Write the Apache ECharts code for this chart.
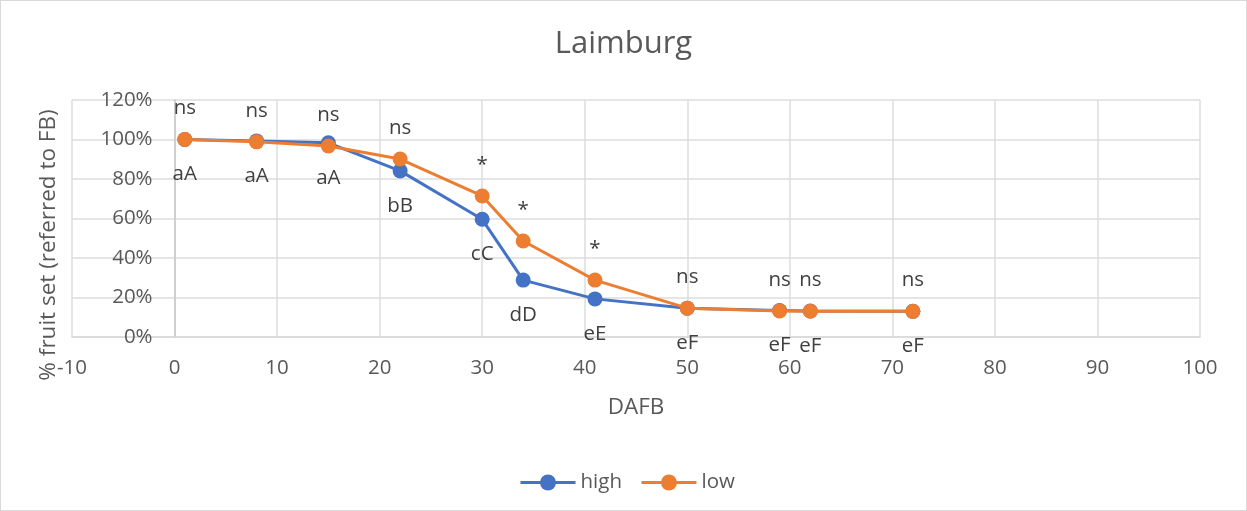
<!DOCTYPE html>
<html>
<head>
<meta charset="utf-8">
<script src="https://cdn.jsdelivr.net/npm/echarts@6/dist/echarts.min.js"></script>
<style>
html,body{margin:0;padding:0;background:#fff;}
#c{width:1247px;height:511px;box-sizing:border-box;border:1px solid #d9d9d9;}
</style>
</head>
<body>
<div id="c"></div>
<script>
// Data
const dafb = [1, 8, 15, 22, 30, 34, 41, 50, 59, 62, 72];
const highValues = [100, 99.3, 98.3, 84.1, 59.6, 28.8, 19.3, 14.6, 13.4, 13.2, 13.0];
const lowValues  = [100, 98.8, 96.7, 90.1, 71.4, 48.6, 28.8, 14.6, 13.2, 13.1, 13.0];
const topLabels    = ['ns','ns','ns','ns','*','*','*','ns','ns','ns','ns'];
const bottomLabels = ['aA','aA','aA','bB','cC','dD','eE','eF','eF','eF','eF'];
const seriesNames = ['high', 'low'];
const titleText = 'Laimburg';
const xName = 'DAFB';
const yName = '% fruit set (referred to FB)';

const FONT = '"Open Sans", sans-serif';
const LBL = 20.5;
const chart = echarts.init(document.getElementById('c'));

const pairs = (vals) => dafb.map((x, i) => [x, vals[i]]);
const GRID_LEFT = 71;

chart.setOption({
  animation: false,
  textStyle: { fontFamily: FONT },
  title: {
    text: titleText, left: 'center', top: 23,
    textStyle: { fontFamily: FONT, fontSize: 31, fontWeight: 'normal', color: '#595959' }
  },
  legend: {
    data: seriesNames, bottom: 12, left: 513,
    itemWidth: 55, itemHeight: 20, itemGap: 18,
    lineStyle: { width: 3 },
    textStyle: { fontFamily: FONT, fontSize: LBL, color: '#595959' }
  },
  grid: { left: GRID_LEFT, right: 46, top: 99, bottom: 173, containLabel: false, outerBoundsMode: 'none' },
  xAxis: {
    type: 'value', min: -10, max: 100, interval: 10,
    name: xName, nameLocation: 'middle', nameGap: 59,
    nameTextStyle: { fontFamily: FONT, fontSize: 22.5, color: '#595959' },
    axisLine: { show: true, onZero: false, lineStyle: { color: '#d9d9d9', width: 1.5 } },
    axisTick: { show: false },
    axisLabel: { fontFamily: FONT, fontSize: LBL, color: '#595959', margin: 21 },
    splitLine: { show: true, lineStyle: { color: '#dcdcdc', width: 1.5 } }
  },
  yAxis: {
    type: 'value', min: 0, max: 120, interval: 20,
    axisLine: { show: true, onZero: false, lineStyle: { color: '#c8c8c8', width: 1.5 } },
    axisTick: { show: false },
    axisLabel: { fontFamily: FONT, fontSize: LBL, color: '#595959', margin: 22, formatter: '{value}%' },
    splitLine: { show: true, lineStyle: { color: '#dcdcdc', width: 1.5 } }
  },
  graphic: [{
    type: 'text', x: 48, y: 244, rotation: Math.PI / 2,
    style: { text: yName, fontFamily: FONT, fontSize: 22.5, fill: '#595959', textAlign: 'center', textVerticalAlign: 'middle' }
  }],
  series: [
    {
      name: seriesNames[0], type: 'line', data: pairs(highValues),
      symbol: 'circle', symbolSize: 15,
      lineStyle: { color: '#4472C4', width: 3 },
      itemStyle: { color: '#4472C4' },
      label: {
        show: true, position: 'bottom', distance: 17,
        fontFamily: FONT, fontSize: LBL, color: '#404040',
        formatter: (p) => bottomLabels[p.dataIndex]
      },
      z: 2
    },
    {
      name: seriesNames[1], type: 'line', data: pairs(lowValues),
      symbol: 'circle', symbolSize: 15,
      lineStyle: { color: '#ED7D31', width: 3 },
      itemStyle: { color: '#ED7D31' },
      label: {
        show: true, position: 'top', distance: 13,
        fontFamily: FONT, fontSize: LBL, color: '#404040',
        formatter: (p) => topLabels[p.dataIndex]
      },
      z: 3
    }
  ]
});

// Place the value axis where x = 0 (the axis crosses at zero in the original)
for (let k = 0; k < 3; k++) {
  const rect = chart.getModel().getComponent('grid').coordinateSystem.getRect();
  const zeroPx = chart.convertToPixel({ xAxisIndex: 0 }, 0);
  chart.setOption({ yAxis: { offset: -(zeroPx - rect.x) } });
}
</script>
</body>
</html>
